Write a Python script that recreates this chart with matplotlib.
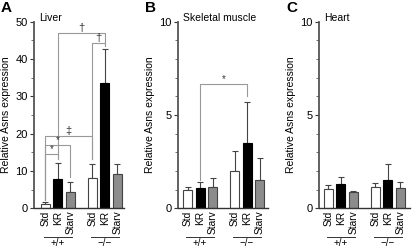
import matplotlib
matplotlib.use("Agg")
import matplotlib.pyplot as plt
import matplotlib.transforms as mtransforms
import numpy as np

plt.rcParams['font.family'] = ['Liberation Sans', 'DejaVu Sans']

categories = ["Std", "KR", "Starv", "Std", "KR", "Starv"]
groups = ["+/+", "\u2212/\u2212"]

liver_mean = [1.2, 7.8, 4.5, 8.0, 33.5, 9.2]
liver_top = [1.8, 12.2, 7.0, 12.0, 42.8, 12.0]
muscle_mean = [1.0, 1.1, 1.15, 2.0, 3.5, 1.5]
muscle_top = [1.15, 1.4, 1.6, 3.05, 5.7, 2.7]
heart_mean = [1.05, 1.3, 0.85, 1.15, 1.5, 1.1]
heart_top = [1.25, 1.7, 0.95, 1.35, 2.35, 1.4]

titles = ["Liver", "Skeletal muscle", "Heart"]
letters = ["A", "B", "C"]

W, H = 416, 247
fig = plt.figure(figsize=(W / 100, H / 100), dpi=100)

xpos = np.array([0, 1, 2, 3.76, 4.76, 5.76])
face = ["white", "black", "#8c8c8c"] * 2
edge = ["#444444", "black", "#444444"] * 2

ytop_px, ybot_px = 21.7, 208.3
panels = [
    (34, 124, -0.9, liver_mean, liver_top, 50, 10, 5),
    (178, 268, -0.76, muscle_mean, muscle_top, 10, 5, 1),
    (319, 410, -0.75, heart_mean, heart_top, 10, 5, 1),
]
axes = []
for i, (l, r, xl, mean, top, ymax, major, minor) in enumerate(panels):
    ax = fig.add_axes([l / W, (H - ybot_px) / H, (r - l) / W, (ybot_px - ytop_px) / H])
    axes.append(ax)
    width_units = (r - l) / 12.5
    ax.set_xlim(xl, xl + width_units)
    ax.set_ylim(0, ymax)
    ax.bar(xpos, mean, width=0.72, color=face, edgecolor=edge, linewidth=0.8, zorder=2)
    err = np.array(top) - np.array(mean)
    ax.errorbar(xpos, mean, yerr=[np.zeros(6), err], fmt='none', ecolor="#444444",
                elinewidth=0.8, capsize=2.2, capthick=0.8, zorder=1)
    for s in ["top", "right"]:
        ax.spines[s].set_visible(False)
    ax.spines["left"].set_color("#555555")
    ax.spines["left"].set_linewidth(1.3)
    ax.spines["bottom"].set_color("#333333")
    ax.spines["bottom"].set_linewidth(1.0)
    ax.set_yticks(np.arange(0, ymax + 0.01, major))
    ax.set_yticks(np.arange(0, ymax + 0.01, minor), minor=True)
    ax.tick_params(axis='y', which='major', direction='out', length=3, width=0.8,
                   labelsize=8, pad=1.5, color="#333333")
    ax.tick_params(axis='y', which='minor', direction='out', length=2, width=0.6,
                   color="#555555")
    ax.set_xticks(xpos)
    ax.set_xticklabels(categories, rotation=90, fontsize=7.3)
    ax.tick_params(axis='x', length=0, pad=1.5)
    ax.set_ylabel("Relative Asns expression", fontsize=7.5, labelpad=3)
    ax.text(0.06, 1.02, titles[i], transform=ax.transAxes, fontsize=7.5,
            ha='left', va='center')
    # group lines
    trans = mtransforms.blended_transform_factory(ax.transData, ax.transAxes)
    yline = -(237 - ybot_px) / (ybot_px - ytop_px)
    for g, (a, b) in enumerate([(0, 2), (3, 5)]):
        ax.plot([xpos[a] - 0.1, xpos[b] + 0.1], [yline, yline], transform=trans,
                color="#333333", lw=0.7, clip_on=False)
        ax.text((xpos[a] + xpos[b]) / 2, yline - 0.005, groups[g], transform=trans,
                ha='center', va='top', fontsize=7)
    fig.text((l - 33) / W, 1 - 1 / H, letters[i], fontsize=11, fontweight='bold',
             ha='left', va='top')


def bracket(ax, i1, i2, y, low1, low2, sym, fs=7):
    x1, x2 = xpos[i1], xpos[i2]
    ax.plot([x1, x1, x2, x2], [low1, y, y, low2], color="#999999", lw=0.8,
            clip_on=False, zorder=0)
    ax.text((x1 + x2) / 2, y, sym, ha='center', va='bottom', fontsize=fs,
            color="#333333")


axA, axB, axC = axes
bracket(axA, 0, 1, 14.5, 2.3, 13.2, "*")
bracket(axA, 0, 2, 16.9, 2.3, 8.5, "*")
bracket(axA, 0, 3, 19.3, 2.3, 13.3, "\u2021", fs=8)
bracket(axA, 3, 4, 44.2, 13.3, 43.5, "\u2020", fs=8)
bracket(axA, 1, 4, 47.1, 14.0, 44.2, "\u2020", fs=8)
bracket(axB, 1, 4, 6.66, 1.5, 6.0, "*")

fig.savefig("out.png", dpi=100)
